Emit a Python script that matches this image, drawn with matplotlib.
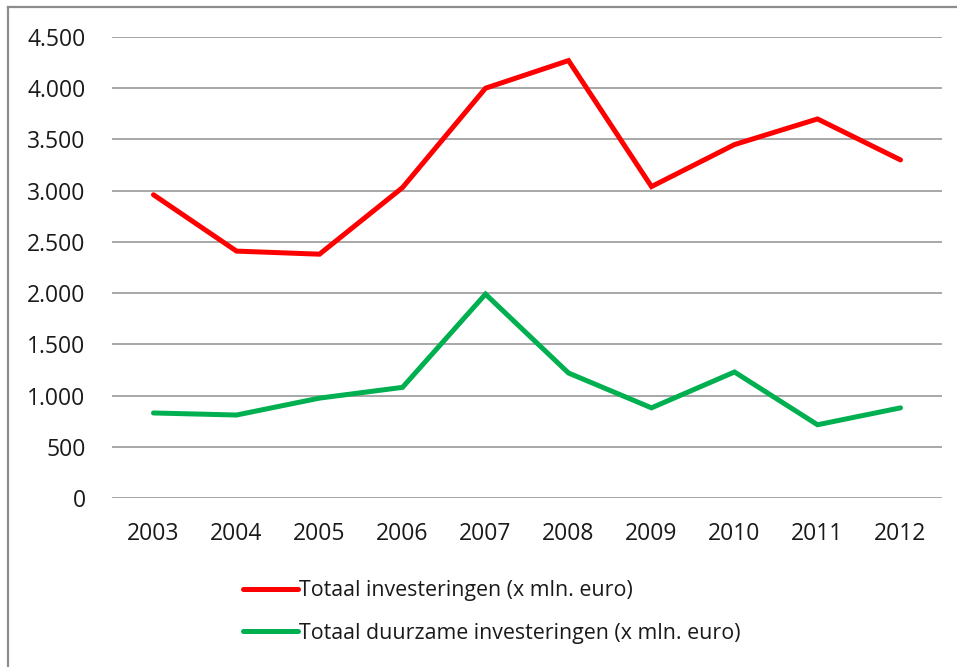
import matplotlib.pyplot as plt
from matplotlib.lines import Line2D
from matplotlib.ticker import FuncFormatter

# data
years = ['2003', '2004', '2005', '2006', '2007', '2008', '2009', '2010', '2011', '2012']
totaal = [2960, 2410, 2380, 3030, 4000, 4270, 3040, 3450, 3700, 3300]
duurzaam = [830, 810, 975, 1080, 1990, 1220, 880, 1230, 715, 880]
yticks = [0, 500, 1000, 1500, 2000, 2500, 3000, 3500, 4000, 4500]

plt.rcParams['font.family'] = ['Open Sans', 'DejaVu Sans']

fig = plt.figure(figsize=(9.57, 6.67), dpi=100)
W, H = 957, 667
ax = fig.add_axes([112 / W, 1 - 498 / H, (942 - 112) / W, (498 - 37) / H])

x = range(len(years))
ax.plot(x, totaal, color='#FF0000', lw=3.6, solid_capstyle='round', solid_joinstyle='miter',
        label='Totaal investeringen (x mln. euro)')
ax.plot(x, duurzaam, color='#00B050', lw=3.6, solid_capstyle='round', solid_joinstyle='miter',
        label='Totaal duurzame investeringen (x mln. euro)')

ax.set_xlim(-0.5, len(years) - 0.5)
ax.set_ylim(0, 4500)
ax.set_xticks(list(x))
ax.set_xticklabels(years)
ax.set_yticks(yticks)
ax.yaxis.set_major_formatter(FuncFormatter(lambda v, p: f'{int(v):,}'.replace(',', '.')))
ax.tick_params(length=0, labelsize=16.5, colors='#1a1a1a')
ax.tick_params(axis='y', pad=19)
ax.tick_params(axis='x', pad=17)
for s in ax.spines.values():
    s.set_visible(False)
ax.grid(axis='y', color='#A0A0A0', lw=1.3)
ax.set_axisbelow(True)

leg = fig.legend(loc='upper left', bbox_to_anchor=(243 / W, 1 - 580 / H), frameon=False,
                 fontsize=15.4, handlelength=2.55, handletextpad=0.05, labelspacing=1.02,
                 borderaxespad=0, borderpad=0)
for t in leg.get_texts():
    t.set_color('#1a1a1a')

# outer chart frame (only top and left visible)
fig.add_artist(Line2D([8 / W, 1], [1 - 7 / H, 1 - 7 / H], color='#8C8C8C', lw=1.6))
fig.add_artist(Line2D([8 / W, 8 / W], [0, 1 - 7 / H], color='#8C8C8C', lw=1.6))

fig.savefig('out.png', dpi=100)
